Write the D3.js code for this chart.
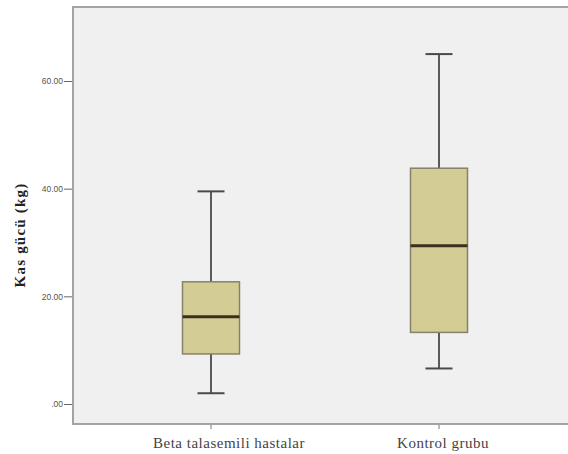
<!DOCTYPE html>
<html><head><meta charset="utf-8">
<script src="https://cdn.jsdelivr.net/npm/d3@7"></script>
<style>
html,body{margin:0;padding:0;background:#fff;}
svg{display:block;}
.serif{font-family:'Liberation Serif','DejaVu Serif','Times New Roman',serif;}
</style></head>
<body>
<script>
const categories = ["Beta talasemili hastalar", "Kontrol grubu"];
const whiskerLow  = [2.0, 6.6];
const q1          = [9.3, 13.3];
const median      = [16.2, 29.4];
const q3          = [22.7, 43.8];
const whiskerHigh = [39.5, 65.0];
const yTicks = [0, 20, 40, 60];
const yTickLabels = [".00", "20.00", "40.00", "60.00"];
const yTitle = "Kas gücü (kg)";

const W = 568, H = 454;
const plot = {left: 73, top: 7, right: 580, bottom: 424};

const svg = d3.select("body").append("svg").attr("width", W).attr("height", H);

const y = d3.scaleLinear().domain([0, 60]).range([404, 81]);
const x = d3.scaleBand().domain(categories).range([97, 553]).paddingInner(0.75).paddingOuter(0.375);

svg.append("rect").attr("x", plot.left).attr("y", plot.top)
  .attr("width", plot.right - plot.left).attr("height", plot.bottom - plot.top)
  .attr("fill", "#f0f0f0").attr("stroke", "#a3a3a3").attr("stroke-width", 2);

const yAxis = d3.axisLeft(y).tickValues(yTicks).tickSize(8)
  .tickFormat((d, i) => yTickLabels[i]);
const gy = svg.append("g").attr("transform", `translate(${plot.left - 1},0)`).call(yAxis);
gy.select(".domain").remove();
gy.selectAll(".tick line").attr("stroke", "#666").attr("stroke-width", 1);
gy.selectAll(".tick text").style("font-family", "'Liberation Sans', Arial, sans-serif")
  .style("font-size", "8.5px").attr("fill", "#555").attr("x", -9);

const xAxis = d3.axisBottom(x).tickSize(4);
const gx = svg.append("g").attr("transform", `translate(0,${plot.bottom + 1})`).call(xAxis);
gx.select(".domain").remove();
gx.selectAll(".tick line").attr("stroke", "#777").attr("stroke-width", 1);
const labelShift = [18, 4];
gx.selectAll(".tick text").attr("class", "serif")
  .style("font-size", "15px").style("letter-spacing", "0.5px").attr("fill", "#444").attr("y", 12)
  .attr("dx", (d, i) => labelShift[i]);

svg.append("text").attr("class", "serif")
  .attr("transform", `translate(25,235) rotate(-90)`)
  .attr("text-anchor", "middle")
  .style("font-weight", "bold").style("font-size", "15px").style("letter-spacing", "1.2px").attr("fill", "#222")
  .text(yTitle);

const bw = x.bandwidth();
const capW = 27;
const g = svg.append("g");
categories.forEach((c, i) => {
  const cx = x(c) + bw / 2;
  g.append("line").attr("x1", cx).attr("x2", cx).attr("y1", y(whiskerHigh[i])).attr("y2", y(q3[i]))
    .attr("stroke", "#5a5a5a").attr("stroke-width", 2);
  g.append("line").attr("x1", cx).attr("x2", cx).attr("y1", y(q1[i])).attr("y2", y(whiskerLow[i]))
    .attr("stroke", "#5a5a5a").attr("stroke-width", 2);
  [whiskerHigh[i], whiskerLow[i]].forEach(v => {
    g.append("line").attr("x1", cx - capW / 2).attr("x2", cx + capW / 2).attr("y1", y(v)).attr("y2", y(v))
      .attr("stroke", "#4a4a4a").attr("stroke-width", 2);
  });
  g.append("rect").attr("x", x(c)).attr("width", bw)
    .attr("y", y(q3[i])).attr("height", y(q1[i]) - y(q3[i]))
    .attr("fill", "#d3cd95").attr("stroke", "#86826a").attr("stroke-width", 1.5);
  g.append("line").attr("x1", x(c)).attr("x2", x(c) + bw).attr("y1", y(median[i])).attr("y2", y(median[i]))
    .attr("stroke", "#3a3020").attr("stroke-width", 3);
});
</script>
</body></html>
